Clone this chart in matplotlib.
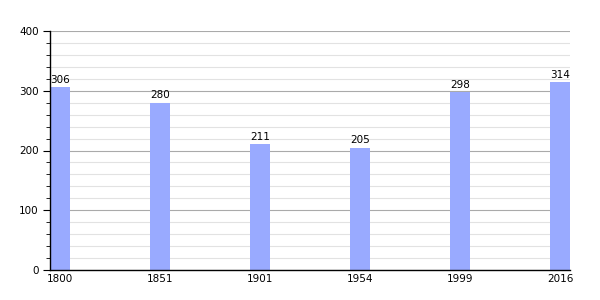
import matplotlib
matplotlib.use('Agg')
from matplotlib import pyplot as plt
from matplotlib.ticker import MultipleLocator

years = ['1800', '1851', '1901', '1954', '1999', '2016']
population = [306, 280, 211, 205, 298, 314]

fig = plt.figure(figsize=(6, 3), dpi=100)
ax = fig.add_axes([50 / 600, 30 / 300, 520 / 600, 239 / 300])

pos = range(len(years))
ax.bar(pos, population, width=0.2, color='#99aaff', zorder=2)
for x, v in zip(pos, population):
    ax.text(x, v + 4, str(v), ha='center', va='bottom', fontsize=7.5, zorder=3)

ax.set_xlim(-0.1, 5.1)
ax.set_ylim(0, 400)
ax.set_xticks(list(pos))
ax.set_xticklabels(years)
ax.yaxis.set_major_locator(MultipleLocator(100))
ax.yaxis.set_minor_locator(MultipleLocator(20))

ax.grid(axis='y', which='major', color='#aaaaaa', linewidth=0.8, zorder=0)
ax.grid(axis='y', which='minor', color='#e2e2e2', linewidth=0.8, zorder=0)
ax.set_axisbelow(True)

for s in ['top', 'right']:
    ax.spines[s].set_visible(False)
ax.spines['left'].set_linewidth(1)
ax.spines['bottom'].set_linewidth(1)

ax.tick_params(axis='x', length=0, labelsize=7.5, pad=3)
ax.tick_params(axis='y', which='major', length=5, labelsize=7.5, pad=3)
ax.tick_params(axis='y', which='minor', length=3)

fig.savefig('out.png')
